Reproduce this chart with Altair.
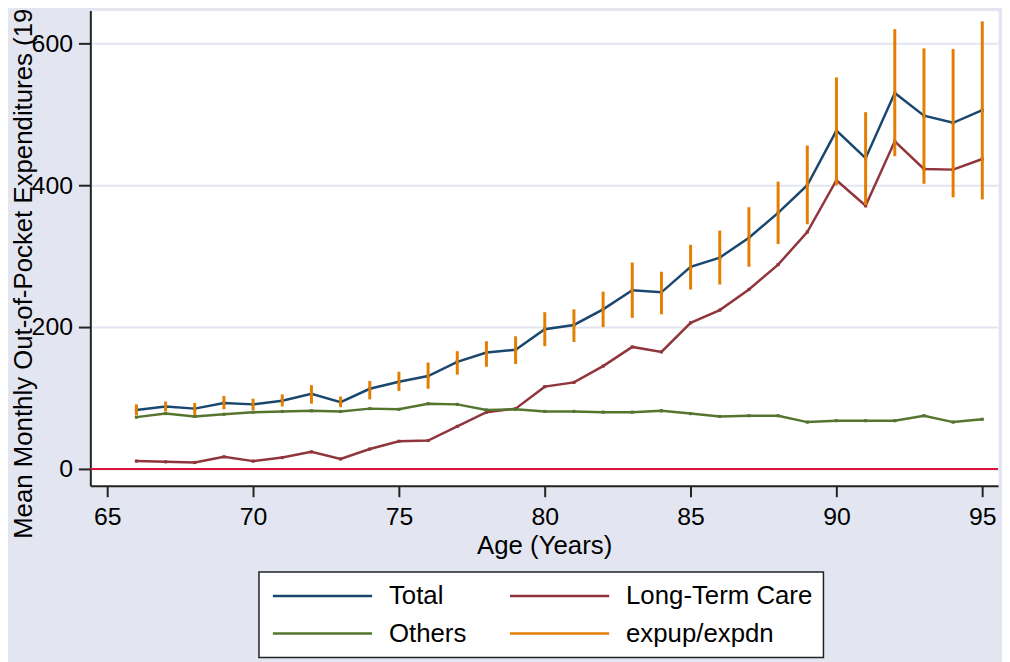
import altair as alt
import pandas as pd

ages = [66, 67, 68, 69, 70, 71, 72, 73, 74, 75, 76, 77, 78, 79, 80,
        81, 82, 83, 84, 85, 86, 87, 88, 89, 90, 91, 92, 93, 94, 95]
total = [83, 88, 85, 93, 91, 96, 106, 94, 113, 123, 131, 151, 164, 168, 197,
         203, 225, 252, 249, 285, 298, 326, 361, 400, 477, 438, 530, 498, 488, 506]
ltc = [11, 10, 9, 17, 11, 16, 24, 14, 28, 39, 40, 60, 80, 85, 116,
       122, 145, 172, 165, 206, 224, 253, 288, 334, 407, 371, 462, 423, 422, 437]
others = [73, 78, 74, 77, 80, 81, 82, 81, 85, 84, 92, 91, 83, 84, 81,
          81, 80, 80, 82, 78, 74, 75, 75, 66, 68, 68, 68, 75, 66, 70]
exp_up = [91, 95, 93, 103, 99, 105, 118, 102, 124, 137, 150, 166, 180, 187, 221,
          225, 250, 291, 278, 316, 336, 369, 405, 456, 552, 503, 620, 593, 592, 631]
exp_dn = [76, 81, 76, 84, 83, 88, 92, 87, 98, 110, 113, 133, 144, 148, 173,
          179, 200, 213, 218, 253, 260, 285, 317, 345, 400, 372, 441, 402, 383, 380]
zero_line = [0]

# legend fills column by column: Total, Others | Long-Term Care, expup/expdn
series_names = ["Total", "Others", "Long-Term Care", "expup/expdn"]
series_colors = ["#1A476F", "#55752F", "#90353B", "#E37E00"]
x_ticks = [65, 70, 75, 80, 85, 90, 95]
y_ticks = [0, 200, 400, 600]

rows = []
for name, vals in [("Total", total), ("Long-Term Care", ltc), ("Others", others)]:
    for a, v in zip(ages, vals):
        rows.append({"age": a, "value": v, "series": name})
lines_df = pd.DataFrame(rows)
err_df = pd.DataFrame({"age": ages, "value": exp_dn, "value2": exp_up,
                       "series": ["expup/expdn"] * len(ages)})
zero_df = pd.DataFrame({"value": zero_line})

FONT = "Liberation Sans"
BG = "#E3E6F1"

x_enc = alt.X("age:Q",
              scale=alt.Scale(domain=[64.42, 95.54], nice=False, zero=False),
              axis=alt.Axis(values=x_ticks, title="Age (Years)", grid=False,
                            tickSize=11, labelPadding=8,
                            titleY=68, titleBaseline="alphabetic"))
y_enc = alt.Y("value:Q",
              scale=alt.Scale(domain=[-23.8, 646.2], nice=False, zero=False),
              axis=alt.Axis(values=y_ticks,
                            title="Mean Monthly Out-of-Pocket Expenditures (1998 $)",
                            grid=True, tickSize=12, labelPadding=6,
                            titleAngle=270, titleAlign="left",
                            titleBaseline="alphabetic", titleX=-59, titleY=532))

color_scale = alt.Scale(domain=series_names, range=series_colors)
legend = alt.Legend(title=None, orient="none", legendX=170, legendY=566,
                    columns=2, symbolType="M-1,0H9", symbolSize=400,
                    symbolStrokeWidth=2.5, labelOffset=94, columnPadding=38,
                    rowPadding=12, padding=11, labelFontSize=26, labelFont=FONT,
                    labelColor="black", labelLimit=400,
                    fillColor="white", strokeColor="#222222")

zero_rule = alt.Chart(zero_df).mark_rule(color="#D8143F", strokeWidth=2).encode(y=y_enc)

lines = alt.Chart(lines_df).mark_line(strokeWidth=2.5).encode(
    x=x_enc, y=y_enc,
    color=alt.Color("series:N", scale=color_scale, legend=legend),
    detail="series:N")

dots = alt.Chart(lines_df).mark_square(size=10, opacity=1, filled=True).encode(
    x=x_enc, y=y_enc,
    fill=alt.Fill("series:N", scale=alt.Scale(domain=series_names, range=series_colors),
                  legend=None))

bars = alt.Chart(err_df).mark_rule(strokeWidth=3).encode(
    x=x_enc, y=y_enc, y2="value2:Q",
    color=alt.Color("series:N", scale=color_scale, legend=legend))

chart = alt.layer(zero_rule, lines, dots, bars).properties(
    width=915, height=479,
    autosize=alt.AutoSizeParams(type="none"),
    padding={"left": 83, "top": 0, "right": 4, "bottom": 175},
    background=BG,
).configure_view(
    fill="white", stroke="transparent"
).configure_axis(
    labelFont=FONT, labelFontSize=25, labelColor="black",
    titleFont=FONT, titleFontSize=26, titleFontWeight="normal", titleColor="black",
    domainColor="#222222", domainWidth=2, tickColor="#222222", tickWidth=2,
    gridColor=BG, gridWidth=2
).configure_legend(
    strokeWidth=1.5
)

chart.save("out.html", embed_options={"renderer": "svg", "actions": False})
